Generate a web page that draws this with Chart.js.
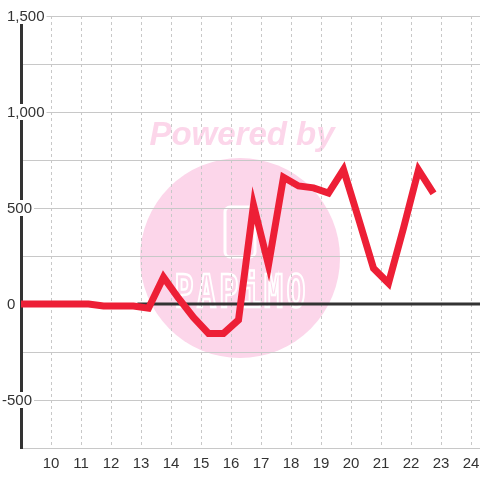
<!DOCTYPE html>
<html lang="en">
<head>
    <meta charset="UTF-8">
    <title>Line chart</title>
    <script src="https://cdn.jsdelivr.net/npm/chart.js"></script>
    <style>
        body {
            margin: 0;
            background: #fff;
        }
        canvas {
            display: block;
        }
    </style>
</head>
<body>
    <canvas id="lineChart" width="480" height="480"></canvas>

    <script>
        // hours on the x axis and the value at each of them
        const times = [8.75, 9.25, 9.75, 10.25, 10.75, 11.25, 11.75, 12.25, 12.75, 13.25,
            13.75, 14.25, 14.75, 15.25, 15.75, 16.25, 16.75, 17.25, 17.75, 18.25,
            18.75, 19.25, 19.75, 20.25, 20.75, 21.25, 21.75, 22.25, 22.75];
        const values = [0, 0, 0, 0, 0, 0, -10, -10, -10, -22,
            140, 30, -70, -153, -153, -83, 516, 203, 660, 615,
            605, 578, 700, 445, 186, 108, 395, 698, 576];

        // dark zero line
        const baseTimes = [12.88, 24.3];
        const baseValues = [0, 0];

        const xTicks = [10, 11, 12, 13, 14, 15, 16, 17, 18, 19, 20, 21, 22, 23, 24];
        const yLabels = [1500, 1000, 500, 0, -500];

        const textColor = '#333';

        const watermark = {
            id: 'watermark',
            beforeDraw(chart) {
                const ctx = chart.ctx;
                ctx.save();
                ctx.fillStyle = '#fff';
                ctx.fillRect(0, 0, chart.width, chart.height);

                ctx.fillStyle = '#fcd6ea';
                ctx.beginPath();
                ctx.arc(240, 258, 100, 0, Math.PI * 2);
                ctx.fill();

                ctx.font = 'italic bold 33px "Liberation Sans"';
                ctx.textAlign = 'center';
                ctx.textBaseline = 'alphabetic';
                ctx.fillText('Powered by', 242, 145);

                // logo
                ctx.strokeStyle = '#fff';
                ctx.lineWidth = 3;
                ctx.beginPath();
                ctx.roundRect(225, 207, 30, 50, 5);
                ctx.stroke();

                ctx.lineWidth = 2.5;
                ctx.font = 'bold 44px "DejaVu Sans Mono"';
                const word = 'PAPiMO';
                for (let i = 0; i < word.length; i++) {
                    ctx.strokeText(word[i], 184 + i * 22.4, 307, 19);
                }
                ctx.restore();
            }
        };

        const yAxisLabels = {
            id: 'yAxisLabels',
            beforeDatasetsDraw(chart) {
                const ctx = chart.ctx;
                const y = chart.scales.y;
                ctx.save();
                ctx.font = '15px "Liberation Sans"';
                ctx.textBaseline = 'middle';
                ctx.textAlign = 'left';
                const dash = ctx.measureText('-').width;
                yLabels.forEach(v => {
                    const text = v.toLocaleString('en-US');
                    const w = ctx.measureText(text).width;
                    const px = y.getPixelForValue(v);
                    const left = 7 - (v < 0 ? dash : 0);
                    ctx.fillStyle = '#fff';
                    ctx.fillRect(left - 1, px - 8, w + 3, 16);
                    ctx.fillStyle = textColor;
                    ctx.fillText(text, left, px + 1);
                });
                ctx.restore();
            }
        };

        const ctx = document.getElementById('lineChart').getContext('2d');
        const lineChart = new Chart(ctx, {
            type: 'line',
            data: {
                datasets: [
                    {
                        data: times.map((t, i) => ({ x: t, y: values[i] })),
                        borderColor: 'rgb(237, 31, 54)',
                        borderWidth: 7,
                        pointRadius: 0,
                        tension: 0,
                        fill: false
                    },
                    {
                        data: baseTimes.map((t, i) => ({ x: t, y: baseValues[i] })),
                        borderColor: '#333',
                        borderWidth: 3,
                        pointRadius: 0,
                        fill: false
                    }
                ]
            },
            options: {
                responsive: false,
                animation: false,
                layout: {
                    padding: { left: 21, top: 16, right: 0, bottom: 0 }
                },
                scales: {
                    x: {
                        type: 'linear',
                        min: 9,
                        max: 24.3,
                        afterBuildTicks: scale => {
                            scale.ticks = xTicks.map(v => ({ value: v }));
                        },
                        afterFit: scale => {
                            scale.height = 32;
                            scale.paddingLeft = 0;
                            scale.paddingRight = 0;
                        },
                        ticks: {
                            color: textColor,
                            font: { family: 'Liberation Sans', size: 15 },
                            padding: 7,
                            maxRotation: 0,
                            autoSkip: false
                        },
                        grid: {
                            color: '#c8c8c8',
                            lineWidth: 1,
                            drawTicks: false
                        },
                        border: {
                            display: false,
                            dash: [3, 3]
                        }
                    },
                    y: {
                        min: -750,
                        max: 1500,
                        afterFit: scale => {
                            scale.width = 0;
                            scale.paddingTop = 0;
                            scale.paddingBottom = 0;
                        },
                        ticks: {
                            stepSize: 250,
                            display: false
                        },
                        grid: {
                            color: '#c8c8c8',
                            lineWidth: 1,
                            drawTicks: false
                        },
                        border: {
                            color: '#333',
                            width: 3
                        }
                    }
                },
                plugins: {
                    legend: { display: false },
                    tooltip: { enabled: false }
                }
            },
            plugins: [watermark, yAxisLabels]
        });
    </script>
</body>
</html>
